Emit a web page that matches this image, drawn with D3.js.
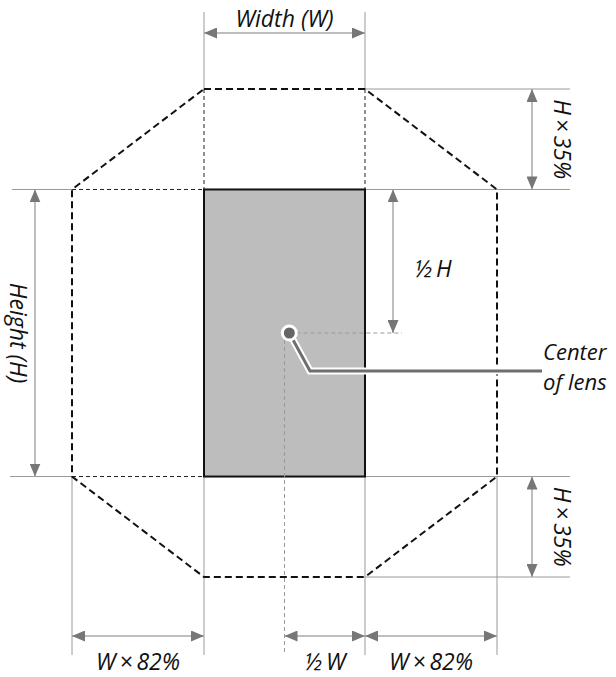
<!DOCTYPE html>
<html>
<head>
<meta charset="utf-8">
<script src="https://cdn.jsdelivr.net/npm/d3@7"></script>
<style>
  body { margin: 0; background: #fff; }
  text { font-family: "Open Sans", "Noto Sans", sans-serif; font-style: italic; font-size: 23px; fill: #111; }
</style>
</head>
<body>
<div id="chart"></div>
<script>
// Geometry in units of the rectangle: x in W, y in H
var rectBox = [0, 1];            // left/right (W) and top/bottom (H)
var widthFactor = 0.82;          // W x 82%
var heightFactor = 0.35;         // H x 35%
var lensCenter = [0.53, 0.5];    // drawn dot position
var centerLine = [0.5, 0.5];     // dashed guide position

// dimension labels
var topLabel = "Width (W)";
var leftLabel = "Height (H)";
var halfHLabel = "\u00BD\u2009H";
var sideLabels = ["H\u2009\u00D7\u200935%", "H\u2009\u00D7\u200935%"];
var bottomLabels = ["W\u2009\u00D7\u200982%", "\u00BD\u2009W", "W\u2009\u00D7\u200982%"];
var calloutLines = ["Center", "of lens"];

var width = 616, height = 677;

var x = d3.scaleLinear().domain([-widthFactor, 1 + widthFactor]).range([72, 497]);
var y = d3.scaleLinear().domain([-heightFactor, 1 + heightFactor]).range([89, 577]);

var svg = d3.select("#chart").append("svg")
    .attr("width", width)
    .attr("height", height);

svg.append("rect").attr("width", width).attr("height", height).attr("fill", "#fff");

var defs = svg.append("defs");
defs.append("marker")
    .attr("id", "head")
    .attr("viewBox", "0 0 13 11")
    .attr("refX", 13).attr("refY", 5.5)
    .attr("markerWidth", 13).attr("markerHeight", 11)
    .attr("markerUnits", "userSpaceOnUse")
    .attr("orient", "auto-start-reverse")
    .append("path")
    .attr("d", "M0,0 L13,5.5 L0,11 Z")
    .attr("fill", "#777");

var gray = "#9a9a9a";

// extension lines
var ext = [
    [x(0), 12, x(0), y(-heightFactor)],
    [x(1), 12, x(1), y(-heightFactor)],
    [x(1), y(-heightFactor), 570, y(-heightFactor)],
    [x(1), y(0), 570, y(0)],
    [x(1), y(1), 570, y(1)],
    [x(1), y(1 + heightFactor), 570, y(1 + heightFactor)],
    [12, y(0), x(-widthFactor), y(0)],
    [10, y(1), x(-widthFactor), y(1)],
    [x(-widthFactor), y(1), x(-widthFactor), 655],
    [x(0), y(1), x(0), 655],
    [x(1), y(1), x(1), 655],
    [x(1 + widthFactor), y(1), x(1 + widthFactor), 655]
];
svg.selectAll(".ext").data(ext).enter().append("line")
    .attr("class", "ext")
    .attr("x1", function(d) { return d[0]; })
    .attr("y1", function(d) { return d[1]; })
    .attr("x2", function(d) { return d[2]; })
    .attr("y2", function(d) { return d[3]; })
    .attr("stroke", gray)
    .attr("stroke-width", 1);

// thin dashed construction lines
var construct = [
    [x(0), y(-heightFactor), x(0), y(0)],
    [x(1), y(-heightFactor), x(1), y(0)],
    [x(-widthFactor), y(0), x(0), y(0)],
    [x(-widthFactor), y(1), x(0), y(1)]
];
svg.selectAll(".cons").data(construct).enter().append("line")
    .attr("x1", function(d) { return d[0]; })
    .attr("y1", function(d) { return d[1]; })
    .attr("x2", function(d) { return d[2]; })
    .attr("y2", function(d) { return d[3]; })
    .attr("stroke", "#222")
    .attr("stroke-width", 1)
    .attr("stroke-dasharray", "4,3");

// the rectangle
svg.append("rect")
    .attr("x", x(rectBox[0]))
    .attr("y", y(rectBox[0]))
    .attr("width", x(rectBox[1]) - x(rectBox[0]))
    .attr("height", y(rectBox[1]) - y(rectBox[0]))
    .attr("fill", "#bdbdbd")
    .attr("stroke", "#111")
    .attr("stroke-width", 2);

// octagon
var octagon = [
    [0, -heightFactor], [1, -heightFactor],
    [1 + widthFactor, 0], [1 + widthFactor, 1],
    [1, 1 + heightFactor], [0, 1 + heightFactor],
    [-widthFactor, 1], [-widthFactor, 0]
];
svg.append("path")
    .attr("d", d3.line().x(function(d) { return x(d[0]); }).y(function(d) { return y(d[1]); })(octagon) + "Z")
    .attr("fill", "none")
    .attr("stroke", "#111")
    .attr("stroke-width", 2)
    .attr("stroke-dasharray", "7,4");

// gray dashed guides from lens center
svg.append("line")
    .attr("x1", x(lensCenter[0])).attr("y1", y(centerLine[1]))
    .attr("x2", 402).attr("y2", y(centerLine[1]))
    .attr("stroke", gray).attr("stroke-dasharray", "4,3");
svg.append("line")
    .attr("x1", x(centerLine[0])).attr("y1", y(centerLine[1]))
    .attr("x2", x(centerLine[0])).attr("y2", 655)
    .attr("stroke", gray).attr("stroke-dasharray", "4,3");

// dimension arrows
function arrow(x1, y1, x2, y2) {
    svg.append("line")
        .attr("x1", x1).attr("y1", y1)
        .attr("x2", x2).attr("y2", y2)
        .attr("stroke", "#a8a8a8")
        .attr("stroke-width", 1.5)
        .attr("marker-start", "url(#head)")
        .attr("marker-end", "url(#head)");
}
arrow(x(0), 33, x(1), 33);
arrow(35, y(0), 35, y(1));
arrow(393, y(0), 393, y(0.5));
arrow(532, y(-heightFactor), 532, y(0));
arrow(532, y(1), 532, y(1 + heightFactor));
arrow(x(-widthFactor), 636, x(0), 636);
arrow(x(centerLine[0]), 636, x(1), 636);
arrow(x(1), 636, x(1 + widthFactor), 636);

// callout leader
var leader = [[x(lensCenter[0]), y(lensCenter[1])], [310, 371], [542, 371]];
var lineGen = d3.line();
svg.append("path").attr("d", lineGen(leader))
    .attr("fill", "none").attr("stroke", "#fff").attr("stroke-width", 7);
svg.append("path").attr("d", lineGen(leader))
    .attr("fill", "none").attr("stroke", "#6e6e6e").attr("stroke-width", 3);

svg.append("circle")
    .attr("cx", x(lensCenter[0])).attr("cy", y(lensCenter[1]))
    .attr("r", 7)
    .attr("fill", "#666")
    .attr("stroke", "#fff")
    .attr("stroke-width", 3);

// labels
svg.append("text").attr("x", x(0.5)).attr("y", 27)
    .attr("text-anchor", "middle").text(topLabel);

svg.append("text")
    .attr("transform", "translate(10," + y(0.5) + ") rotate(90)")
    .attr("text-anchor", "middle").text(leftLabel);

svg.append("text").attr("x", 414).attr("y", 277).text(halfHLabel);

svg.selectAll(".side").data(sideLabels).enter().append("text")
    .attr("transform", function(d, i) {
        var cy = i === 0 ? y(-heightFactor / 2) : y(1 + heightFactor / 2);
        return "translate(554," + cy + ") rotate(90)";
    })
    .attr("text-anchor", "middle")
    .text(function(d) { return d; });

var bottomCenters = [x(-widthFactor / 2), x(0.75), x(1 + widthFactor / 2)];
svg.selectAll(".bottom").data(bottomLabels).enter().append("text")
    .attr("x", function(d, i) { return bottomCenters[i]; })
    .attr("y", 670)
    .attr("text-anchor", "middle")
    .text(function(d) { return d; });

svg.selectAll(".callout").data(calloutLines).enter().append("text")
    .attr("x", 543)
    .attr("y", function(d, i) { return 360 + i * 30; })
    .style("font-size", "22px")
    .text(function(d) { return d; });
</script>
</body>
</html>
